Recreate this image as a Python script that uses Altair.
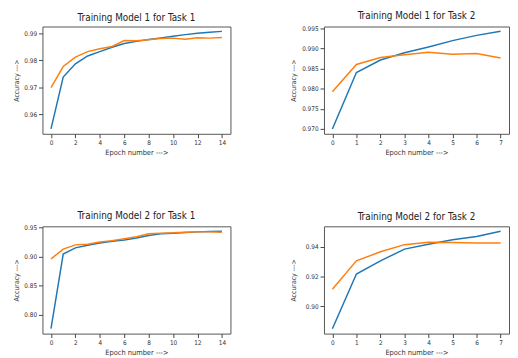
import altair as alt
import pandas as pd

# ---- data ----
epochs_task1 = list(range(15))
epochs_task2 = list(range(8))

m1_t1_blue = [0.9546, 0.9738, 0.9787, 0.9816, 0.9832, 0.9848, 0.9862, 0.9870,
              0.9877, 0.9883, 0.9889, 0.9895, 0.9900, 0.9904, 0.9907]
m1_t1_orange = [0.9699, 0.9777, 0.9812, 0.9832, 0.9843, 0.9851, 0.9873, 0.9872,
                0.9876, 0.9881, 0.9882, 0.9878, 0.9883, 0.9882, 0.9884]

m1_t2_blue = [0.9700, 0.9840, 0.9871, 0.9889, 0.9903, 0.9919, 0.9932, 0.9942]
m1_t2_orange = [0.9792, 0.9860, 0.9877, 0.9884, 0.9890, 0.9885, 0.9887, 0.9876]

m2_t1_blue = [0.7765, 0.9045, 0.9151, 0.9196, 0.9235, 0.9263, 0.9285, 0.9319,
              0.9364, 0.9392, 0.9403, 0.9414, 0.9425, 0.9431, 0.9436]
m2_t1_orange = [0.8961, 0.9129, 0.9202, 0.9213, 0.9252, 0.9275, 0.9308, 0.9342,
                0.9392, 0.9403, 0.9409, 0.9420, 0.9425, 0.9425, 0.9420]

m2_t2_blue = [0.8851, 0.9218, 0.9306, 0.9385, 0.9418, 0.9448, 0.9470, 0.9505]
m2_t2_orange = [0.9116, 0.9306, 0.9367, 0.9415, 0.9431, 0.9429, 0.9426, 0.9426]

titles = ["Training Model 1 for Task 1", "Training Model 1 for Task 2",
          "Training Model 2 for Task 1", "Training Model 2 for Task 2"]

x_ticks_task1 = [0, 2, 4, 6, 8, 10, 12, 14]
x_ticks_task2 = [0, 1, 2, 3, 4, 5, 6, 7]
y_ticks_m1t1 = [0.96, 0.97, 0.98, 0.99]
y_ticks_m1t2 = [0.970, 0.975, 0.980, 0.985, 0.990, 0.995]
y_ticks_m2t1 = [0.80, 0.85, 0.90, 0.95]
y_ticks_m2t2 = [0.90, 0.92, 0.94]

BLUE = "#1f77b4"
ORANGE = "#ff7f0e"
FONT = "DejaVu Sans Condensed"
H = 109


def panel(title, epochs, blue, orange, xdom, xticks, ydom, yticks, yfmt, width,
          yextent):
    df = pd.DataFrame({"epoch": epochs, "blue": blue, "orange": orange})
    x = alt.X("epoch:Q", scale=alt.Scale(domain=xdom, nice=False, zero=False),
              axis=alt.Axis(values=xticks, tickCount=len(xticks), format="d",
                            title="Epoch number --->", titleFontSize=7.5,
                            titlePadding=3))
    base = alt.Chart(df)
    l1 = base.mark_line(color=BLUE, strokeWidth=1.5, clip=True).encode(
        x=x,
        y=alt.Y("blue:Q", scale=alt.Scale(domain=ydom, nice=False, zero=False),
                axis=alt.Axis(values=yticks, tickCount=len(yticks), format=yfmt,
                              title="Accuracy --->", titleFontSize=7,
                              titlePadding=4.5, minExtent=yextent,
                              maxExtent=yextent)),
    )
    l2 = base.mark_line(color=ORANGE, strokeWidth=1.5, clip=True).encode(
        x=x,
        y=alt.Y("orange:Q", title="Accuracy --->"),
    )
    return alt.layer(l1, l2).properties(
        title=title, width=width, height=H
    )


p1 = panel(titles[0], epochs_task1, m1_t1_blue, m1_t1_orange, [-0.7, 14.7],
           x_ticks_task1, [0.9528, 0.9925], y_ticks_m1t1, ".2f", 191, 19)
p2 = panel(titles[1], epochs_task2, m1_t2_blue, m1_t2_orange, [-0.35, 7.35],
           x_ticks_task2, [0.9688, 0.9954], y_ticks_m1t2, ".3f", 188, 23)
p3 = panel(titles[2], epochs_task1, m2_t1_blue, m2_t1_orange, [-0.7, 14.7],
           x_ticks_task1, [0.7681, 0.9520], y_ticks_m2t1, ".2f", 191, 19)
p4 = panel(titles[3], epochs_task2, m2_t2_blue, m2_t2_orange, [-0.35, 7.35],
           x_ticks_task2, [0.8818, 0.9538], y_ticks_m2t2, ".2f", 188, 23)

chart = alt.concat(p1, p2, p3, p4, columns=2,
                   spacing={"row": 53, "column": 59}).properties(
    padding={"left": 4, "top": 0, "right": 0, "bottom": 0}
).configure_view(
    stroke="#555", strokeWidth=1
).configure_axis(
    grid=False, domain=False, tickSize=4, tickColor="#444", labelPadding=2,
    labelFont=FONT, titleFont=FONT, labelFontSize=6.5,
    labelColor="#333", titleColor="#333", titleFontWeight="normal",
    labelFlush=False, labelOverlap=False
).configure_title(
    font=FONT, fontSize=10, fontWeight="normal", color="#222", offset=4,
    anchor="middle"
)

chart.save("out.html", embed_options={"renderer": "svg", "actions": False})
